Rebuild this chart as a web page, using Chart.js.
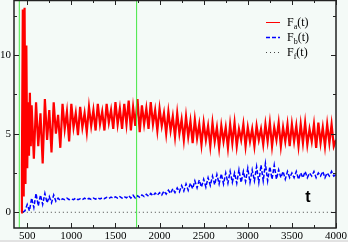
<!DOCTYPE html>
<html>
<head>
<meta charset="utf-8">
<script src="https://cdn.jsdelivr.net/npm/chart.js@4.4.1/dist/chart.umd.min.js"></script>
<style>
  html, body { margin: 0; padding: 0; background: #e2e2e2; }
  #chart { display: block; background: #f4faf7; }
</style>
</head>
<body>
<canvas id="chart" width="348" height="240"></canvas>
<script>
// first spikes of F_a
var tRedEarly = [430, 440, 450, 460, 470, 480, 490, 500, 510, 520, 530, 540, 550];
var faEarly   = [0.0, 3.0, 12.9, 1.0, 13.0, 1.8, 10.6, 2.8, 7.0, 3.6, 7.6, 4.2, 6.8];

var tBlueEarly = [450, 475, 500, 525, 550];
var fbEarly    = [0.0, 0.1, 0.5, 0.1, 0.9];

var tMain = [
  575, 600, 625, 650, 675, 700,
  725, 750, 775, 800, 825, 850, 875, 900,
  925, 950, 975, 1000, 1025, 1050, 1075, 1100,
  1125, 1150, 1175, 1200, 1225, 1250, 1275, 1300,
  1325, 1350, 1375, 1400, 1425, 1450, 1475, 1500,
  1525, 1550, 1575, 1600, 1625, 1650, 1675, 1700,
  1725, 1750, 1775, 1800, 1825, 1850, 1875, 1900,
  1925, 1950, 1975, 2000, 2025, 2050, 2075, 2100,
  2125, 2150, 2175, 2200, 2225, 2250, 2275, 2300,
  2325, 2350, 2375, 2400, 2425, 2450, 2475, 2500,
  2525, 2550, 2575, 2600, 2625, 2650, 2675, 2700,
  2725, 2750, 2775, 2800, 2825, 2850, 2875, 2900,
  2925, 2950, 2975, 3000, 3025, 3050, 3075, 3100,
  3125, 3150, 3175, 3200, 3225, 3250, 3275, 3300,
  3325, 3350, 3375, 3400, 3425, 3450, 3475, 3500,
  3525, 3550, 3575, 3600, 3625, 3650, 3675, 3700,
  3725, 3750, 3775, 3800, 3825, 3850, 3875, 3900,
  3925, 3950, 3975, 4000
];

var fa = [
  3.4, 7.0, 4.2, 6.3, 3.1, 7.2,
  4.6, 6.5, 3.8, 7.0, 5.0, 6.2, 4.1, 6.9,
  5.3, 6.4, 4.5, 6.9, 5.4, 6.3, 4.9, 6.7,
  5.4, 6.3, 5.1, 6.7, 5.5, 6.5, 5.2, 6.9,
  5.6, 6.4, 5.2, 6.9, 5.7, 6.5, 5.3, 7.0,
  5.6, 6.6, 5.3, 6.9, 5.6, 7.1, 5.2, 6.7,
  5.5, 7.2, 5.1, 6.8, 5.6, 6.6, 5.3, 7.0,
  5.6, 6.5, 5.2, 6.6, 5.5, 6.3, 5.0, 6.4,
  5.2, 6.1, 4.8, 6.3, 5.0, 5.9, 4.6, 6.1,
  4.8, 5.8, 4.4, 5.9, 4.7, 5.6, 4.3, 5.7,
  4.6, 5.5, 4.2, 5.7, 4.5, 5.4, 4.1, 5.5,
  4.5, 5.4, 4.1, 5.6, 4.4, 5.7, 4.2, 5.3,
  4.6, 5.6, 4.2, 5.4, 4.5, 5.3, 4.2, 5.5,
  4.6, 5.3, 4.3, 5.6, 4.5, 5.7, 4.2, 5.4,
  4.6, 5.7, 4.2, 5.4, 4.5, 5.6, 4.2, 5.6,
  4.5, 5.5, 4.2, 5.6, 4.4, 5.7, 4.3, 5.3,
  4.5, 5.6, 4.1, 5.7, 4.4, 5.4, 4.2, 5.6,
  4.4, 5.6, 4.2, 4.6
];

var fb = [
  0.3, 1.2, 0.4, 1.1, 0.5, 1.2,
  0.6, 1.0, 0.6, 1.1, 0.7, 0.9, 0.75, 0.85,
  0.8, 0.9, 0.8, 0.85, 0.8, 0.9, 0.8, 0.85,
  0.8, 0.9, 0.82, 0.88, 0.82, 0.9, 0.84, 0.92,
  0.85, 0.92, 0.86, 0.95, 0.88, 0.96, 0.9, 0.98,
  0.9, 1.0, 0.9, 1.0, 0.92, 1.05, 0.9, 1.08,
  0.9, 1.05, 0.95, 1.1, 1.0, 1.15, 1.02, 1.2,
  1.05, 1.22, 1.08, 1.25, 1.1, 1.35, 1.15, 1.4,
  1.2, 1.5, 1.25, 1.55, 1.3, 1.7, 1.35, 1.8,
  1.4, 1.85, 1.5, 2.0, 1.55, 2.05, 1.6, 2.1,
  1.6, 2.2, 1.7, 2.3, 1.75, 2.4, 1.8, 2.45,
  1.8, 2.5, 1.85, 2.6, 1.9, 2.5, 1.85, 2.7,
  1.9, 2.6, 1.95, 2.8, 1.9, 2.7, 2.0, 2.9,
  1.9, 3.0, 2.0, 3.1, 2.0, 2.9, 2.1, 3.0,
  2.1, 2.7, 2.2, 2.6, 2.1, 2.6, 2.2, 2.5,
  2.2, 2.6, 2.1, 2.5, 2.2, 2.6, 2.2, 2.5,
  2.3, 2.6, 2.2, 2.5, 2.3, 2.6, 2.2, 2.5,
  2.3, 2.6, 2.3, 2.4
];

var tFlat = [450, 4000];
var ff = [0, 0];

var markerT = [410, 1740];

var xTicks = [500, 1000, 1500, 2000, 2500, 3000, 3500, 4000];
var yTicks = [0, 5, 10];
var legendSubs = ['a', 'b', 'f'];

function pairs(ts, vs) {
    return ts.map(function(t, i) { return { x: t, y: vs[i] }; });
}

var redPts = pairs(tRedEarly, faEarly).concat(pairs(tMain, fa));
var bluePts = pairs(tBlueEarly, fbEarly).concat(pairs(tMain, fb));

var datasets = [];
markerT.forEach(function(t) {
    datasets.push({
        data: [{ x: t, y: -1 }, { x: t, y: 13.5 }],
        borderColor: '#44e844',
        borderWidth: 1
    });
});
datasets.push({ data: pairs(tFlat, ff), borderColor: '#444', borderWidth: 1, borderDash: [1, 3] });
datasets.push({ data: bluePts, borderColor: '#0000ff', borderWidth: 1.5, borderDash: [4, 2] });
datasets.push({ data: redPts, borderColor: '#ff0000', borderWidth: 2.2 });
datasets.forEach(function(d) {
    d.showLine = true;
    d.pointRadius = 0;
    d.tension = 0;
});

var serif = "'Liberation Serif', 'Times New Roman', serif";

var framePlugin = {
    id: 'frame',
    afterDraw: function(chart) {
        var ctx = chart.ctx;
        var a = chart.chartArea;
        var xs = chart.scales.x, ys = chart.scales.y;
        var v, p, len;
        ctx.save();
        ctx.strokeStyle = '#222';
        ctx.lineWidth = 1.5;
        ctx.strokeRect(a.left, a.top + 0.5, a.right - a.left, a.bottom - a.top - 0.5);

        ctx.lineWidth = 1;
        ctx.beginPath();
        for (v = 500; v <= 4000; v += 250) {
            p = Math.round(xs.getPixelForValue(v)) + 0.5;
            len = v % 500 === 0 ? 5 : 3;
            ctx.moveTo(p, a.bottom); ctx.lineTo(p, a.bottom - len);
            ctx.moveTo(p, a.top); ctx.lineTo(p, a.top + len);
        }
        for (v = 0; v <= 12.5; v += 2.5) {
            p = Math.round(ys.getPixelForValue(v)) + 0.5;
            len = v % 5 === 0 ? 5 : 3;
            ctx.moveTo(a.left, p); ctx.lineTo(a.left + len, p);
            ctx.moveTo(a.right, p); ctx.lineTo(a.right - len, p);
        }
        ctx.stroke();

        // legend
        var styles = [
            { color: '#ff0000', dash: [], width: 1 },
            { color: '#0000ff', dash: [4, 2], width: 1.4 },
            { color: '#444', dash: [1, 3], width: 1 }
        ];
        legendSubs.forEach(function(s, i) {
            var y = 22 + i * 15;
            ctx.strokeStyle = styles[i].color;
            ctx.lineWidth = styles[i].width;
            ctx.setLineDash(styles[i].dash);
            ctx.beginPath();
            ctx.moveTo(266, y + 0.5);
            ctx.lineTo(280, y + 0.5);
            ctx.stroke();
            ctx.setLineDash([]);

            ctx.fillStyle = '#000';
            ctx.textBaseline = 'alphabetic';
            ctx.textAlign = 'left';
            ctx.font = '12px ' + serif;
            var x = 287;
            ctx.fillText('F', x, y + 4);
            x += ctx.measureText('F').width;
            ctx.font = '8px ' + serif;
            ctx.fillText(s, x, y + 7);
            x += ctx.measureText(s).width;
            ctx.font = '12px ' + serif;
            ctx.fillText('(t)', x, y + 4);
        });

        ctx.font = 'bold 16px "Liberation Sans"';
        ctx.fillStyle = '#000';
        ctx.textAlign = 'center';
        ctx.fillText('t', 308, 202);
        ctx.restore();
    }
};

new Chart(document.getElementById('chart'), {
    type: 'scatter',
    data: { datasets: datasets },
    options: {
        responsive: false,
        animation: false,
        devicePixelRatio: 1,
        layout: { padding: { top: 0, right: 12, left: 0, bottom: 0 } },
        plugins: { legend: { display: false }, tooltip: { enabled: false } },
        scales: {
            x: {
                type: 'linear',
                min: 350,
                max: 4000,
                grid: { display: false, drawTicks: false },
                border: { display: false },
                ticks: {
                    color: '#000',
                    font: { family: serif, size: 11 },
                    padding: 2,
                    maxRotation: 0,
                    autoSkip: false,
                    callback: function(v) { return String(v); }
                },
                afterBuildTicks: function(scale) {
                    scale.ticks = xTicks.map(function(v) { return { value: v }; });
                },
                afterFit: function(scale) {
                    scale.height = 12;
                    scale.paddingLeft = 0;
                    scale.paddingRight = 0;
                }
            },
            y: {
                min: -1,
                max: 13.5,
                grid: { display: false, drawTicks: false },
                border: { display: false },
                ticks: {
                    color: '#000',
                    font: { family: serif, size: 11 },
                    padding: 3,
                    callback: function(v) { return String(v); }
                },
                afterBuildTicks: function(scale) {
                    scale.ticks = yTicks.map(function(v) { return { value: v }; });
                },
                afterFit: function(scale) {
                    scale.width = 14;
                    scale.paddingTop = 0;
                    scale.paddingBottom = 0;
                }
            }
        }
    },
    plugins: [framePlugin]
});
</script>
</body>
</html>
